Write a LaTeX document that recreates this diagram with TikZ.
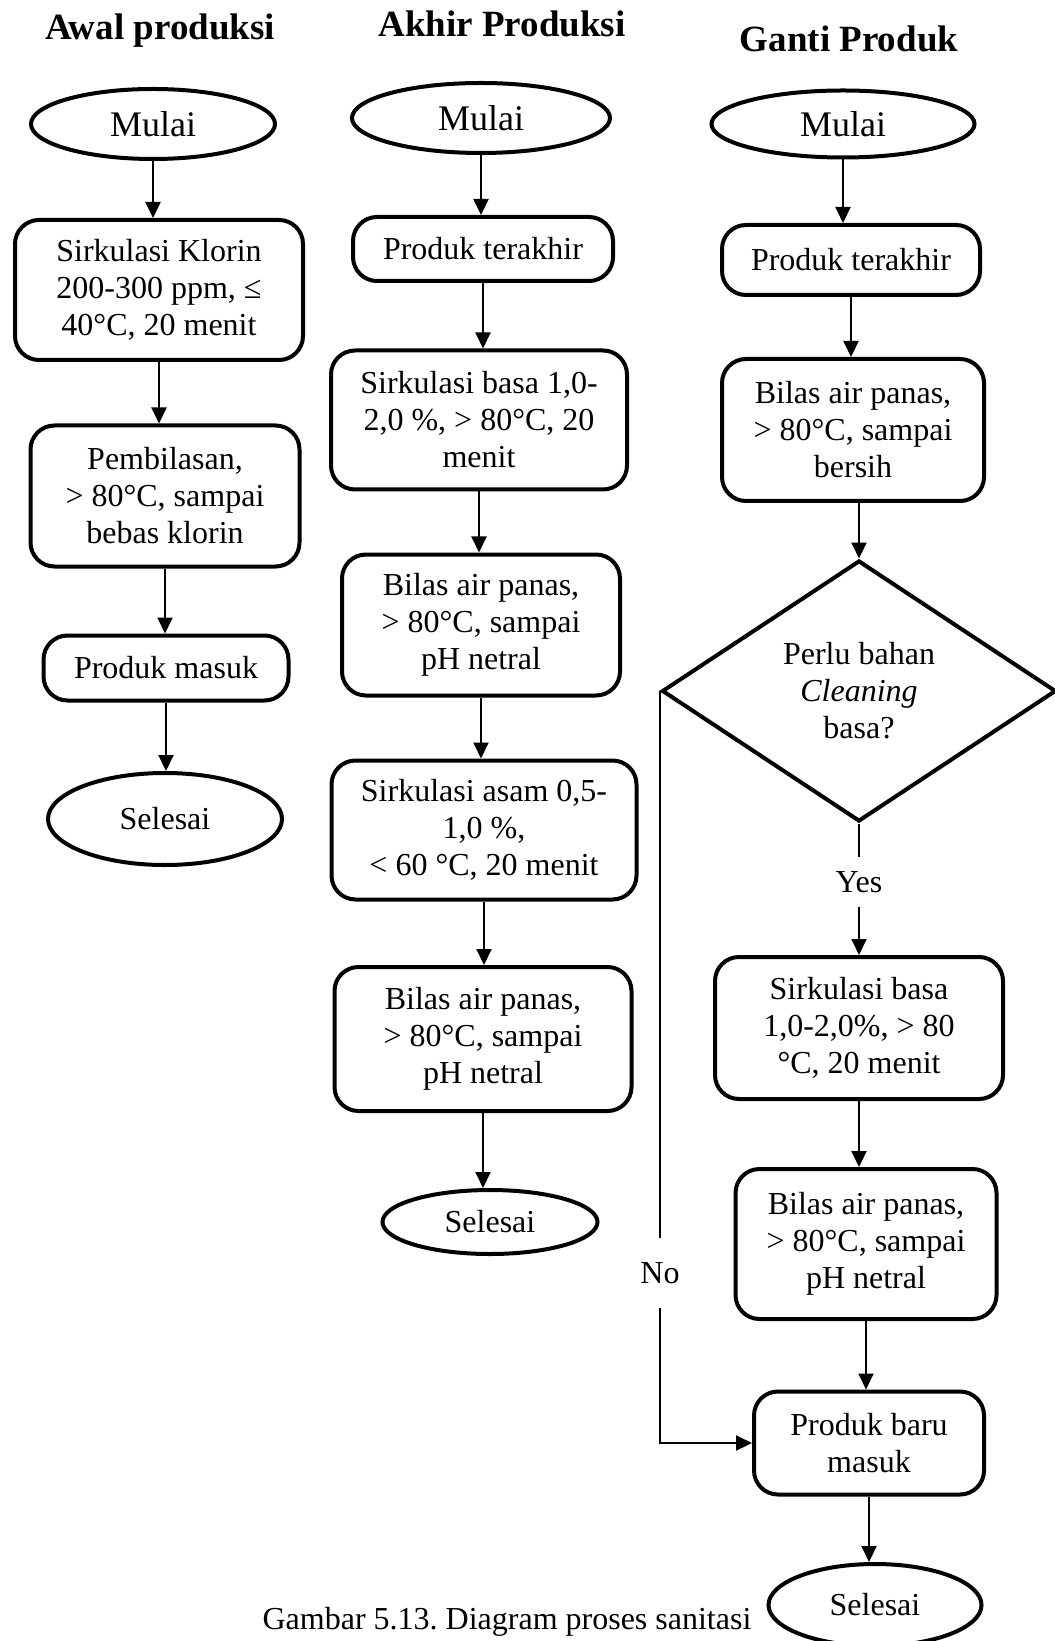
\documentclass[tikz,border=0pt]{standalone}
\usepackage{fontspec}
\setmainfont{Liberation Serif}
\usetikzlibrary{shapes.geometric,arrows.meta}
\frenchspacing
\tikzset{
  proses/.style={draw, line width=2pt, rounded corners=12pt, align=center,
    inner sep=2pt, font=\fontsize{16}{18.5}\selectfont},
  oval/.style={draw, ellipse, line width=2pt, inner sep=0pt,
    font=\fontsize{16}{18.5}\selectfont},
  keputusan/.style={draw, diamond, line width=2pt, inner sep=0pt, align=center,
    font=\fontsize{16}{18.5}\selectfont},
  judul/.style={font=\fontsize{18.5}{22}\selectfont\bfseries},
  teks/.style={font=\fontsize{16}{18.5}\selectfont},
  panah/.style={-{Triangle[width=7.5pt,length=8pt]}, line width=1pt},
  garis/.style={line width=1pt}
}
\begin{document}
\begin{tikzpicture}[x=0.5pt,y=-0.5pt]
  \useasboundingbox (0,0) rectangle (1054,1641);
  % judul kolom
  \node[judul] (j1) at (160,31) {Awal produksi};
  \node[judul] (j2) at (502,24) {Akhir Produksi};
  \node[judul] (j3) at (849,39) {Ganti Produk};
  % awal produksi
  \node[oval, minimum width=122pt, minimum height=35pt, font=\fontsize{18}{21}\selectfont] (m1) at (153,124) {Mulai};
  \node[proses, minimum width=144pt, minimum height=70pt] (k1) at (159,290) {Sirkulasi Klorin\\200-300 ppm, ≤\\40°C, 20 menit};
  \node[proses, minimum width=134.5pt, minimum height=70.5pt] (k2) at (165,496) {Pembilasan,\\> 80°C, sampai\\bebas klorin};
  \node[proses, minimum width=122.5pt, minimum height=32.5pt] (k3) at (166,668) {Produk masuk};
  \node[oval, minimum width=117pt, minimum height=46pt] (s1) at (165,819) {Selesai};
  % akhir produksi
  \node[oval, minimum width=129pt, minimum height=35pt, font=\fontsize{18}{21}\selectfont] (m2) at (481,118) {Mulai};
  \node[proses, minimum width=130pt, minimum height=32pt] (p2) at (483,249) {Produk terakhir};
  \node[proses, minimum width=148pt, minimum height=69.5pt] (b2a) at (479,420) {Sirkulasi basa 1,0-\\2,0 \%, > 80°C, 20\\menit};
  \node[proses, minimum width=139pt, minimum height=70.5pt] (b2b) at (481,625) {Bilas air panas,\\> 80°C, sampai\\pH netral};
  \node[proses, minimum width=152.5pt, minimum height=69.5pt] (b2c) at (484,830) {Sirkulasi asam 0,5-\\1,0 \%,\\< 60 °C, 20 menit};
  \node[proses, minimum width=148.5pt, minimum height=72pt] (b2d) at (483,1039) {Bilas air panas,\\> 80°C, sampai\\pH netral};
  \node[oval, minimum width=107.5pt, minimum height=32pt] (s2) at (490,1222) {Selesai};
  % ganti produk
  \node[oval, minimum width=131.5pt, minimum height=33.5pt, font=\fontsize{18}{21}\selectfont] (m3) at (843,124) {Mulai};
  \node[proses, minimum width=129pt, minimum height=35pt] (p3) at (851,260) {Produk terakhir};
  \node[proses, minimum width=131pt, minimum height=71pt] (b3a) at (853,430) {Bilas air panas,\\> 80°C, sampai\\bersih};
  \node[keputusan, minimum width=197pt, minimum height=130.5pt] (dec) at (859,691) {Perlu bahan\\\textit{Cleaning}\\basa?};
  \node[proses, minimum width=144pt, minimum height=71pt] (b3b) at (859,1028) {Sirkulasi basa\\1,0-2,0\%, > 80\\°C, 20 menit};
  \node[proses, minimum width=130.5pt, minimum height=75pt] (b3c) at (866,1244) {Bilas air panas,\\> 80°C, sampai\\pH netral};
  \node[proses, minimum width=115pt, minimum height=51.5pt] (b3d) at (869,1443) {Produk baru\\masuk};
  \node[oval, minimum width=106.5pt, minimum height=41pt] (s3) at (875,1605) {Selesai};
  \node[teks, inner ysep=7pt] (yes) at (dec.south |- 0,882) {Yes};
  \node[teks, inner ysep=12pt] (no) at (dec.west |- 0,1273) {No};
  % keterangan
  \node[teks] (ket) at (507,1622) {Gambar 5.13. Diagram proses sanitasi};
  \begin{scope}[panah]
    \draw (m1) -- (m1 |- k1.north);
    \draw (k1) -- (k1 |- k2.north);
    \draw (k2) -- (k2 |- k3.north);
    \draw (k3) -- (k3 |- s1.north);
    \draw (m2) -- (m2 |- p2.north);
    \draw (p2) -- (p2 |- b2a.north);
    \draw (b2a) -- (b2a |- b2b.north);
    \draw (b2b) -- (b2b |- b2c.north);
    \draw (b2c) -- (b2c |- b2d.north);
    \draw (b2d) -- (b2d |- s2.north);
    \draw (m3) -- (m3 |- p3.north);
    \draw (p3) -- (p3 |- b3a.north);
    \draw (dec.north |- b3a.south) -- (dec.north);
    \draw (yes) -- (yes |- b3b.north);
    \draw (b3b) -- (b3b |- b3c.north);
    \draw (b3c) -- (b3c |- b3d.north);
    \draw (b3d) -- (b3d |- s3.north);
    \draw (no) |- (b3d.west);
  \end{scope}
  \draw[garis] (dec.south) -- (yes);
  \draw[garis] (dec.west) -- (no);
\end{tikzpicture}
\end{document}
